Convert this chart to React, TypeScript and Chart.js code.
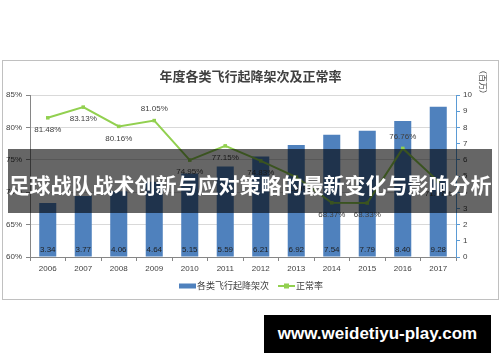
import React, { useEffect, useRef } from "react";
import { Chart, registerables } from "chart.js";

Chart.register(...registerables);

const years = ["2006", "2007", "2008", "2009", "2010", "2011", "2012", "2013", "2014", "2015", "2016", "2017"];
const movements = [3.34, 3.77, 4.06, 4.64, 5.15, 5.59, 6.21, 6.92, 7.54, 7.79, 8.4, 9.28];
const punctuality = [81.48, 83.13, 80.16, 81.05, 74.95, 77.15, 74.83, 72.34, 68.37, 68.33, 76.76, 71.67];
const punctualityLabelSide = ["below", "below", "below", "above", "below", "below", "below", "below", "below", "below", "above", "below"];

const chartTitle = "年度各类飞行起降架次及正常率";
const rightAxisUnit = "（百万）";
const barLabel = "各类飞行起降架次";
const lineLabel = "正常率";
const bannerText = "足球战队战术创新与应对策略的最新变化与影响分析";
const watermarkText = "www.weidetiyu-play.com";

const BAR_COLOR = "#4f81bd";
const LINE_COLOR = "#92d050";
const SANS = '"Liberation Sans", Arial, sans-serif';
const CJK = '"Noto Sans CJK SC", sans-serif';

const decorPlugin = {
  id: "decor",
  afterDatasetsDraw(chart: any) {
    const ctx = chart.ctx;
    ctx.save();
    ctx.font = `8px ${SANS}`;
    ctx.textAlign = "center";
    ctx.textBaseline = "middle";
    const base = chart.scales.y1.getPixelForValue(0);
    chart.getDatasetMeta(1).data.forEach((el: any, i: number) => {
      ctx.fillStyle = "#1f1f1f";
      ctx.fillText(movements[i].toFixed(2), el.x, base - 7);
    });
    chart.getDatasetMeta(0).data.forEach((el: any, i: number) => {
      const dy = punctualityLabelSide[i] === "above" ? -12 : 12;
      ctx.fillStyle = "#404040";
      ctx.fillText(punctuality[i].toFixed(2) + "%", el.x, el.y + dy);
    });
    ctx.restore();
  },
  afterDraw(chart: any) {
    const ctx = chart.ctx;
    ctx.save();
    // title
    ctx.fillStyle = "#404040";
    ctx.font = `bold 13px ${CJK}`;
    ctx.textAlign = "center";
    ctx.textBaseline = "middle";
    ctx.fillText(chartTitle, chart.width / 2, 15);
    // right axis unit (rotated)
    ctx.save();
    ctx.translate(480, 21);
    ctx.rotate(Math.PI / 2);
    ctx.font = `8px ${CJK}`;
    ctx.fillStyle = "#404040";
    ctx.fillText(rightAxisUnit, 0, 0);
    ctx.restore();
    // legend
    const ly = 225;
    ctx.fillStyle = BAR_COLOR;
    ctx.fillRect(176, ly - 2.5, 17, 5);
    ctx.font = `9px ${CJK}`;
    ctx.fillStyle = "#404040";
    ctx.textAlign = "left";
    ctx.fillText(barLabel, 194, ly);
    ctx.strokeStyle = LINE_COLOR;
    ctx.lineWidth = 2;
    ctx.beginPath();
    ctx.moveTo(275, ly);
    ctx.lineTo(292, ly);
    ctx.stroke();
    ctx.fillStyle = LINE_COLOR;
    ctx.fillRect(283.5 - 2.5, ly - 2.5, 5, 5);
    ctx.fillStyle = "#404040";
    ctx.fillText(lineLabel, 293, ly);
    ctx.restore();
  },
};

export default function App() {
  const ref = useRef<HTMLCanvasElement | null>(null);

  useEffect(() => {
    if (!ref.current) return;
    const tickFont = { size: 8, family: SANS };
    const chart = new Chart(ref.current, {
      data: {
        labels: years,
        datasets: [
          {
            type: "line",
            label: lineLabel,
            data: punctuality,
            yAxisID: "y",
            borderColor: LINE_COLOR,
            backgroundColor: LINE_COLOR,
            borderWidth: 2,
            pointStyle: "rect",
            pointRadius: 2.5,
            pointBorderWidth: 0,
            tension: 0,
            order: 0,
          },
          {
            type: "bar",
            label: barLabel,
            data: movements,
            yAxisID: "y1",
            backgroundColor: BAR_COLOR,
            borderWidth: 0,
            barPercentage: 0.48,
            categoryPercentage: 1,
            order: 1,
          },
        ],
      } as any,
      options: {
        responsive: false,
        animation: false,
        devicePixelRatio: 1,
        layout: { padding: { top: 34, bottom: 24, left: 0, right: 0 } },
        plugins: {
          legend: { display: false },
          tooltip: { enabled: false },
          title: { display: false },
        },
        scales: {
          x: {
            offset: true,
            grid: { offset: true, drawOnChartArea: false, drawTicks: true, tickLength: 4, tickColor: "#868686" },
            border: { color: "#868686" },
            ticks: { font: tickFont, color: "#404040", padding: 3, maxRotation: 0, autoSkip: false },
            afterFit(s: any) {
              s.height = 18;
            },
          },
          y: {
            position: "left",
            min: 60,
            max: 85,
            ticks: { stepSize: 5, callback: (v: any) => v + "%", font: tickFont, color: "#404040", padding: 4 },
            grid: { color: "#d9d9d9", tickColor: "#868686", tickLength: 4 },
            border: { color: "#868686" },
            afterFit(s: any) {
              s.width = 27;
            },
          },
          y1: {
            position: "right",
            min: 0,
            max: 10,
            ticks: { stepSize: 1, font: tickFont, color: "#404040", padding: 3 },
            grid: { drawOnChartArea: false, tickColor: "#5b9bd5", tickLength: 4 },
            border: { color: "#5b9bd5" },
            afterFit(s: any) {
              s.width = 42;
            },
          },
        },
      } as any,
      plugins: [decorPlugin],
    });
    return () => chart.destroy();
  }, []);

  return (
    <div style={{ position: "absolute", left: 0, top: 0, width: 500, height: 362, background: "#fff", overflow: "hidden" }}>
      <div
        style={{
          position: "absolute",
          left: 2,
          top: 60,
          width: 497,
          height: 240,
          border: "1px solid #c0c0c0",
          boxSizing: "border-box",
        }}
      >
        <canvas ref={ref} width={495} height={238} style={{ position: "absolute", left: 0, top: 0, width: 495, height: 238 }} />
      </div>
      <div
        style={{
          position: "absolute",
          left: 8,
          top: 149,
          width: 484,
          height: 64,
          background: "rgba(0,0,0,0.6)",
          color: "#fff",
          fontFamily: CJK,
          fontWeight: "bold",
          fontSize: 21,
          lineHeight: "64px",
          textAlign: "center",
          whiteSpace: "nowrap",
          paddingTop: 6,
          boxSizing: "border-box",
        }}
      >
        <span style={{ position: "relative", top: -3 }}>{bannerText}</span>
      </div>
      <div
        style={{
          position: "absolute",
          left: 264,
          top: 315,
          width: 227,
          height: 38,
          background: "#000",
          color: "#fff",
          fontFamily: SANS,
          fontWeight: "bold",
          fontSize: 17,
          lineHeight: "38px",
          textAlign: "center",
          whiteSpace: "nowrap",
        }}
      >
        {watermarkText}
      </div>
    </div>
  );
}
